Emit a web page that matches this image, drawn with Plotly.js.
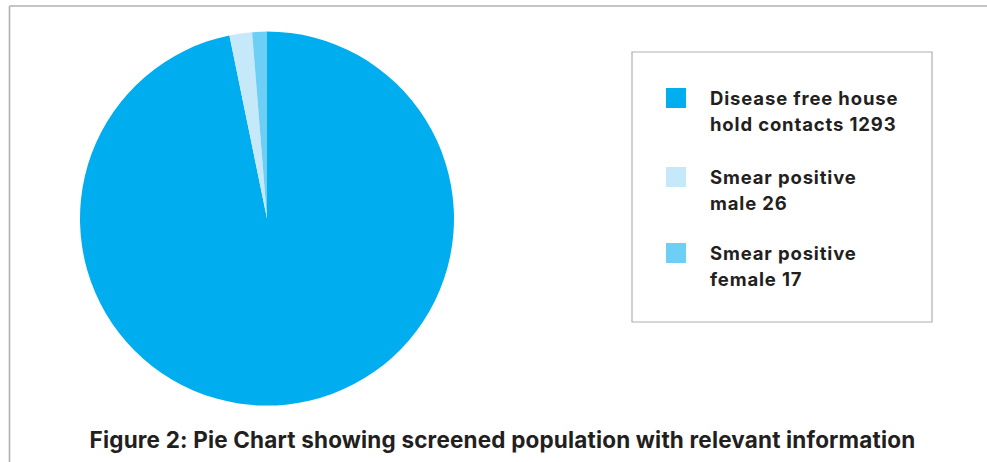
<!DOCTYPE html>
<html>
<head>
<meta charset="utf-8">
<script src="https://cdn.plot.ly/plotly-3.0.1.min.js"></script>
<style>
html,body{margin:0;padding:0;background:#fff;}
#chart{width:987px;height:462px;}
#chart .annotation-text{letter-spacing:0.85px;}
#chart .gtitle{letter-spacing:0.17px;}
</style>
</head>
<body>
<div id="chart"></div>
<script>
// ---- data ----
const sliceLabels = ["Disease free house hold contacts", "Smear positive male", "Smear positive female"];
const legendLines = [["Disease free house", "hold contacts"], ["Smear positive", "male"], ["Smear positive", "female"]];
const sliceValues = [1293, 26, 17];
const sliceColors = ["#00aeef", "#c6e9f9", "#6dcff6"];
const chartTitle = "Figure 2: Pie Chart showing screened population with relevant information";

const W = 987, H = 462;
const px = x => x / W;
const py = y => 1 - y / H;

const FONT = "Inter, 'Liberation Sans', Arial, sans-serif";
const TEXTCOL = "#231f20";
const FRAME = "#b0b0b0";

const cx = 267, cy = 218.6, r = 187;

const trace = {
  type: "pie",
  labels: sliceLabels,
  values: sliceValues,
  sort: false,
  direction: "clockwise",
  rotation: 0,
  textinfo: "none",
  hoverinfo: "label+value",
  marker: { colors: sliceColors, line: { width: 0 } },
  domain: { x: [px(cx - r), px(cx + r)], y: [py(cy + r), py(cy - r)] },
  showlegend: false
};

const shapes = [
  { type: "line", xref: "paper", yref: "paper", x0: px(9.5), x1: 1.01, y0: py(6), y1: py(6), line: { color: FRAME, width: 1.6 } },
  { type: "line", xref: "paper", yref: "paper", x0: px(9.5), x1: px(9.5), y0: py(6), y1: -0.01, line: { color: FRAME, width: 1.6 } },
  { type: "rect", xref: "paper", yref: "paper", x0: px(632), x1: px(932), y0: py(322), y1: py(52), line: { color: FRAME, width: 1.2 }, fillcolor: "rgba(0,0,0,0)" }
];
const annotations = [];

const itemTop = [88, 167, 243];
const lineGap = 25.7;
sliceLabels.forEach((lab, i) => {
  const t = itemTop[i];
  shapes.push({ type: "rect", xref: "paper", yref: "paper", x0: px(666), x1: px(686), y0: py(t + 20), y1: py(t), line: { width: 0 }, fillcolor: sliceColors[i] });
  const lines = [legendLines[i][0], legendLines[i][1] + " " + sliceValues[i]];
  lines.forEach((ln, j) => {
    annotations.push({
      xref: "paper", yref: "paper", x: px(708), y: py(t + 10 + j * lineGap),
      xanchor: "left", yanchor: "middle", align: "left", showarrow: false, text: ln,
      font: { family: FONT, size: 18.5, color: TEXTCOL, weight: 700 }
    });
  });
});

const layout = {
  width: W, height: H, autosize: false,
  margin: { l: 0, r: 0, t: 0, b: 0, pad: 0 },
  paper_bgcolor: "#ffffff", plot_bgcolor: "#ffffff",
  title: {
    text: chartTitle, xref: "paper", yref: "paper", x: px(502.5), y: py(440),
    xanchor: "center", yanchor: "middle",
    font: { family: FONT, size: 22.5, color: TEXTCOL, weight: 700 }
  },
  shapes: shapes,
  annotations: annotations,
  showlegend: false
};

Plotly.newPlot("chart", [trace], layout, { displayModeBar: false, staticPlot: true });
</script>
</body>
</html>
